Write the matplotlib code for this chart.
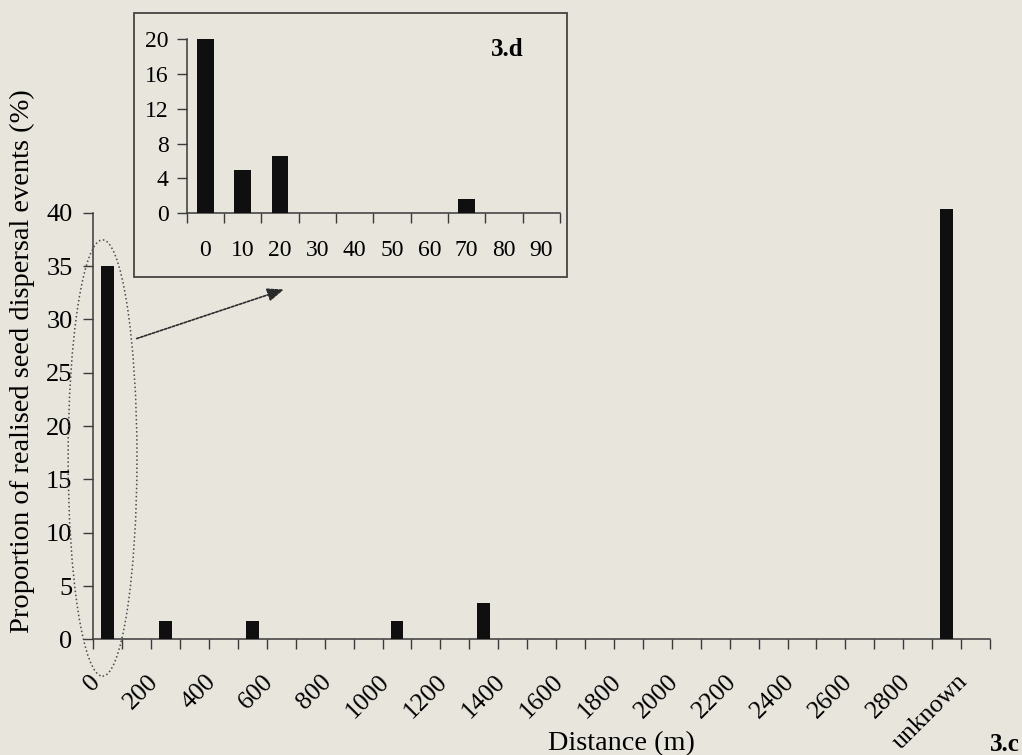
import matplotlib
matplotlib.use("Agg")
import matplotlib.pyplot as plt
from matplotlib.patches import Ellipse, Rectangle
from matplotlib.transforms import ScaledTranslation
import numpy as np

plt.rcParams["font.family"] = ["Liberation Serif", "DejaVu Serif"]

# 3.c - 100 m distance classes (one slot per class), % of dispersal events
main_pct = [35.0, 0, 1.7, 0, 0, 1.7, 0, 0, 0, 0,
            1.7, 0, 0, 3.4, 0, 0, 0, 0, 0, 0,
            0, 0, 0, 0, 0, 0, 0, 0, 0, 40.3, 0]
main_labels = ["0", "200", "400", "600", "800", "1000", "1200", "1400",
               "1600", "1800", "2000", "2200", "2400", "2600", "2800", "unknown"]
main_label_slots = list(range(0, 31, 2))

# 3.d - first 100 m in 10 m classes
inset_labels = ["0", "10", "20", "30", "40", "50", "60", "70", "80", "90"]
inset_pct = [20.2, 5.0, 6.6, 0, 0, 0, 0, 1.7, 0, 0]

bg = "#e8e5dd"
ink = "#0f0f0f"
axc = "#3a3a3a"

fig = plt.figure(figsize=(10.22, 7.55), dpi=100, facecolor=bg)

# ---- main chart
ax = fig.add_axes([0.0913, 0.1532, 0.8774, 0.5651])
ax.set_facecolor("none")
x = np.arange(len(main_pct))
ax.bar(x, main_pct, width=0.44, color=ink, clip_on=False, zorder=3)
ax.set_xlim(-0.5, len(main_pct) - 0.5)
ax.set_ylim(0, 40)
for s in ["top", "right"]:
    ax.spines[s].set_visible(False)
for s in ["left", "bottom"]:
    ax.spines[s].set_color(axc)
    ax.spines[s].set_linewidth(1.1)

ax.set_yticks(range(0, 41, 5))
ax.tick_params(axis="y", direction="out", length=7, width=1, color=axc,
               pad=8, labelsize=19)
ax.set_xticks(np.arange(-0.5, len(main_pct)), [])
ax.set_xticks(main_label_slots, main_labels, minor=True)
ax.tick_params(axis="x", which="major", direction="out", length=7, width=1, color=axc)
ax.tick_params(axis="x", which="minor", length=0, pad=28, labelsize=18.5)
shift = ScaledTranslation(-11 / 100, 0, fig.dpi_scale_trans)
for lab in ax.get_xticklabels(minor=True):
    lab.set_rotation(45)
    lab.set_rotation_mode("anchor")
    lab.set_ha("right")
    lab.set_va("center")
    lab.set_transform(lab.get_transform() + shift)

# dotted ellipse round the first class + arrow to the inset
ax.add_patch(Ellipse((-0.18, 17.0), 2.38, 40.9, fill=False, ls=":", lw=1.1,
                     ec="#4a4a4a", clip_on=False, zorder=4))
ax.annotate("", xy=(6.09, 32.8), xytext=(1.0, 28.2), annotation_clip=False,
            arrowprops=dict(arrowstyle="-|>,head_length=1.0,head_width=0.4",
                            color="#2a2a2a", lw=1.2, linestyle=(0, (1.5, 1)),
                            shrinkA=0, shrinkB=0))

fig.text(0.022, 0.522, "Proportion of realised seed dispersal events (%)",
         rotation=90, ha="center", va="center", fontsize=20.5)
fig.text(0.608, 0.0066, "Distance (m)", ha="center", va="baseline", fontsize=20.3)
fig.text(0.998, 0.0053, "3.c", ha="right", va="baseline", fontsize=18,
         fontweight="bold")

# ---- inset 3.d
frame = Rectangle((0.1311, 0.6331), 0.4237, 0.3501, transform=fig.transFigure,
                  facecolor=bg, edgecolor="#444444", lw=1.3, zorder=5)
fig.add_artist(frame)

ins = fig.add_axes([0.1827, 0.7175, 0.3653, 0.2304])
ins.set_zorder(6)
ins.set_facecolor("none")
xi = np.arange(len(inset_pct))
ins.bar(xi, inset_pct, width=0.45, color=ink, zorder=3)
ins.set_xlim(-0.5, len(inset_pct) - 0.5)
ins.set_ylim(0, 20)
for s in ["top", "right"]:
    ins.spines[s].set_visible(False)
for s in ["left", "bottom"]:
    ins.spines[s].set_color(axc)
    ins.spines[s].set_linewidth(1.1)
ins.set_yticks(range(0, 21, 4))
ins.tick_params(axis="y", direction="out", length=7, width=1, color=axc,
                pad=6, labelsize=17)
ins.set_xticks(np.arange(-0.5, len(inset_pct)), [])
ins.set_xticks(xi, inset_labels, minor=True)
ins.tick_params(axis="x", which="major", direction="out", length=7, width=1, color=axc)
ins.tick_params(axis="x", which="minor", length=0, pad=19, labelsize=17)

fig.text(0.4966, 0.9338, "3.d", ha="center", va="center", fontsize=18,
         fontweight="bold", zorder=7)

fig.savefig("out.png", dpi=100, facecolor=bg)
